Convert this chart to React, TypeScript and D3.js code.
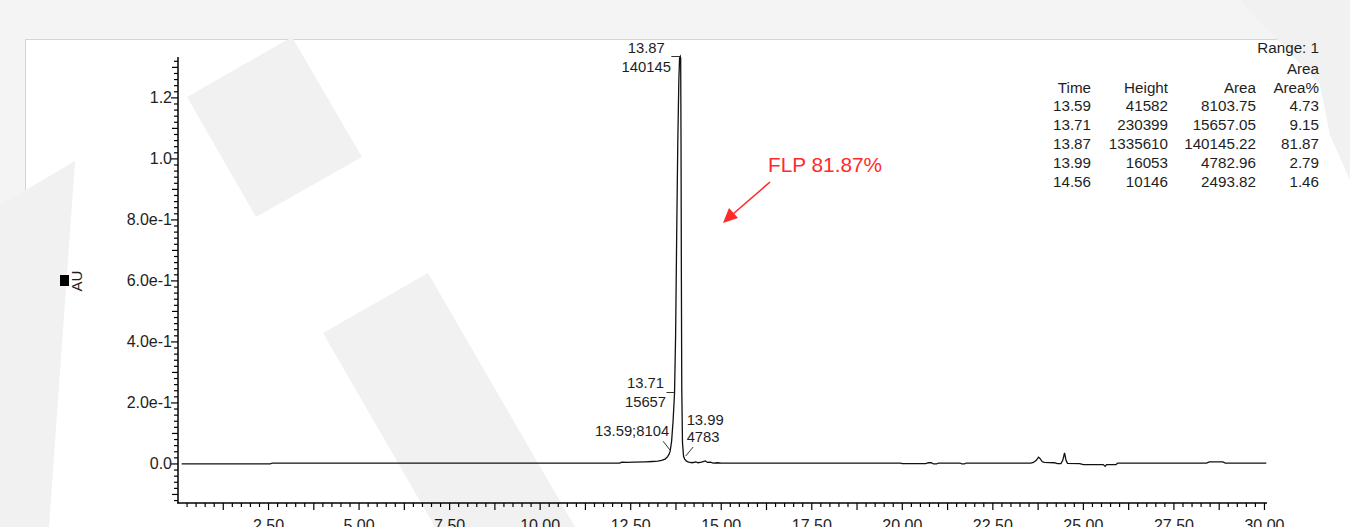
import React, { useEffect, useRef } from 'react';
import * as d3 from 'd3';

// peak table (Empower report)
const peakTimes = [13.59, 13.71, 13.87, 13.99, 14.56];
const peakHeights = [41582, 230399, 1335610, 16053, 10146];
const peakAreas = [8103.75, 15657.05, 140145.22, 4782.96, 2493.82];
const peakAreaPct = [4.73, 9.15, 81.87, 2.79, 1.46];

// chromatogram trace (minutes, AU)
const traceTime = [
  0.1, 2.55, 2.6, 5.0, 10.0, 12.2, 12.25, 12.4, 12.6, 12.9, 13.1, 13.25, 13.35, 13.45, 13.52, 13.56,
  13.59, 13.63, 13.67, 13.71, 13.74, 13.77, 13.8, 13.83, 13.85, 13.87, 13.88, 13.89, 13.9, 13.91,
  13.93, 13.96, 13.99, 14.04, 14.1, 14.2, 14.3, 14.36, 14.45, 14.5, 14.56, 14.62, 14.7, 14.78, 14.9,
  15.0, 19.9, 19.95, 20.0, 20.65, 20.72, 20.8, 20.86, 20.95, 21.0, 21.6, 21.64, 21.72, 21.76, 23.55,
  23.62, 23.7, 23.76, 23.8, 23.86, 23.92, 24.2, 24.28, 24.38, 24.43, 24.48, 24.52, 24.56, 24.9, 25.0,
  25.55, 25.6, 25.64, 25.9, 25.95, 28.4, 28.48, 28.85, 28.92, 30.05,
];
const traceAU = [
  0, 0, 0.003, 0.003, 0.003, 0.003, 0.006, 0.005, 0.006, 0.007, 0.008, 0.009, 0.012, 0.016, 0.024, 0.032,
  0.042, 0.075, 0.14, 0.23, 0.42, 0.75, 1.05, 1.26, 1.33, 1.3356, 1.33, 1.05, 0.6, 0.25,
  0.07, 0.025, 0.016, 0.009, 0.006, 0.004, 0.007, 0.004, 0.006, 0.008, 0.01, 0.005, 0.006, 0.003, 0.004,
  0.003, 0.003, 0.003, 0.001, 0.001, 0.004, 0.004, 0.0, 0.0, 0.003, 0.003, 0.0, 0.0, 0.003, 0.003,
  0.005, 0.012, 0.022, 0.018, 0.008, 0.005, 0.004, 0.001, 0.001, 0.012, 0.036, 0.012, 0.002, 0.001, -0.002,
  -0.002, -0.008, -0.002, -0.002, 0.003, 0.003, 0.007, 0.007, 0.003, 0.003,
];

const xTickValues = [2.5, 5, 7.5, 10, 12.5, 15, 17.5, 20, 22.5, 25, 27.5, 30];
const xTickLabels = ['2.50', '5.00', '7.50', '10.00', '12.50', '15.00', '17.50', '20.00', '22.50', '25.00', '27.50', '30.00'];
const yTickValues = [0, 0.2, 0.4, 0.6, 0.8, 1.0, 1.2];
const yTickLabels = ['0.0', '2.0e-1', '4.0e-1', '6.0e-1', '8.0e-1', '1.0', '1.2'];

const FONT = 'Arial, "Liberation Sans", sans-serif';
const INK = '#1e1e1e';

const Chromatogram = () => {
  const ref = useRef<SVGSVGElement>(null);

  useEffect(() => {
    const svg = d3.select(ref.current);
    svg.selectAll('*').remove();

    // page background + card + watermark
    svg.append('rect').attr('width', 1350).attr('height', 527).attr('fill', '#f4f4f4');
    svg.append('rect').attr('x', 25.5).attr('y', 39.5).attr('width', 1340).attr('height', 500)
      .attr('fill', '#fff').attr('stroke', '#d4d4d4');
    const marks = [
      [[187, 97], [292, 37], [362, 157], [256, 217]],
      [[323, 333], [428, 273], [575, 527], [435, 527]],
      [[0, 205], [75, 161], [49, 527], [0, 527]],
      [[1240, 0], [1350, 0], [1350, 180], [1330, 135], [1320, 85]],
    ];
    marks.forEach(p => {
      svg.append('polygon').attr('points', p.map(q => q.join(',')).join(' ')).attr('fill', '#f1f1f1');
    });

    const x = d3.scaleLinear().domain([0, 30.07]).range([178, 1267]);
    const y = d3.scaleLinear().domain([-0.128, 1.334]).range([503, 57]);

    const g = svg.append('g');

    // Y axis
    g.append('line').attr('x1', 178).attr('x2', 178).attr('y1', y(1.334)).attr('y2', y(-0.128))
      .attr('stroke', '#000').attr('stroke-width', 1.5);
    d3.range(-6, 67).forEach(i => {
      const v = i * 0.02;
      const len = i % 10 === 0 ? 7 : i % 5 === 0 ? 6 : 4;
      g.append('line').attr('x1', 178 - len).attr('x2', 178).attr('y1', y(v)).attr('y2', y(v))
        .attr('stroke', '#000').attr('stroke-width', 1.2);
    });
    yTickValues.forEach((v, i) => {
      g.append('text').attr('x', 172).attr('y', y(v) + 5.5).attr('text-anchor', 'end')
        .attr('font-family', FONT).attr('font-size', 16).attr('fill', INK).text(yTickLabels[i]);
    });

    // X axis
    g.append('line').attr('x1', 177).attr('x2', 1267).attr('y1', 503).attr('y2', 503)
      .attr('stroke', '#000').attr('stroke-width', 1.5);
    d3.range(1, 121).forEach(i => {
      const v = i * 0.25;
      const len = i % 5 === 0 ? 7 : 4;
      g.append('line').attr('x1', x(v)).attr('x2', x(v)).attr('y1', 503).attr('y2', 503 + len)
        .attr('stroke', '#000').attr('stroke-width', 1.2);
    });
    xTickValues.forEach((v, i) => {
      g.append('text').attr('x', x(v)).attr('y', 531).attr('text-anchor', 'middle')
        .attr('font-family', FONT).attr('font-size', 16).attr('fill', INK).text(xTickLabels[i]);
    });

    // AU label
    g.append('rect').attr('x', 60).attr('y', 275).attr('width', 9).attr('height', 11).attr('fill', '#000');
    g.append('text').attr('transform', 'translate(82,281) rotate(-90)').attr('text-anchor', 'middle')
      .attr('font-family', FONT).attr('font-size', 15).attr('fill', INK).text('AU');

    // trace
    const pts = traceTime.map((t, i) => [t, traceAU[i]] as [number, number]);
    g.append('path')
      .attr('d', d3.line<[number, number]>().x(d => x(d[0])).y(d => y(d[1]))(pts) as string)
      .attr('fill', 'none').attr('stroke', '#111').attr('stroke-width', 1.3);

    // peak labels
    const lbl = (px: number, py: number, s: string, anchor: string) =>
      g.append('text').attr('x', px).attr('y', py).attr('text-anchor', anchor)
        .attr('font-family', FONT).attr('font-size', 14.8).attr('fill', INK).text(s);
    const lead = (x1: number, y1: number, x2: number, y2: number) =>
      g.append('line').attr('x1', x1).attr('y1', y1).attr('x2', x2).attr('y2', y2)
        .attr('stroke', '#333').attr('stroke-width', 1);
    const pk = (i: number) => [x(peakTimes[i]), y(peakHeights[i] / 1e6)];

    let [px, py] = pk(2);
    lbl(px - 34, 52.5, peakTimes[2].toFixed(2), 'middle');
    lbl(px - 34, 72, Math.round(peakAreas[2]).toString(), 'middle');
    lead(px - 9, py, px, py);

    [px, py] = pk(1);
    lbl(px - 29, 388, peakTimes[1].toFixed(2), 'middle');
    lbl(px - 29, 407, Math.round(peakAreas[1]).toString(), 'middle');
    lead(px - 8, 392.5, px, 392.5);

    [px, py] = pk(0);
    lbl(px - 1, 436, `${peakTimes[0].toFixed(2)};${Math.round(peakAreas[0])}`, 'end');
    lead(px - 7, py - 10, px, py - 1);

    [px, py] = pk(3);
    lbl(px + 2, 424.5, peakTimes[3].toFixed(2), 'start');
    lbl(px + 2, 442, Math.round(peakAreas[3]).toString(), 'start');
    lead(px + 8.5, py - 12, px + 1, py - 3);

    // results table
    const cols = [1091, 1168, 1256, 1319];
    const tt = (cx: number, cy: number, s: string) =>
      g.append('text').attr('x', cx).attr('y', cy + 5.4).attr('text-anchor', 'end')
        .attr('font-family', FONT).attr('font-size', 15.2).attr('fill', INK).text(s);
    tt(1319, 48, 'Range: 1');
    tt(1319, 69, 'Area');
    ['Time', 'Height', 'Area', 'Area%'].forEach((h, j) => tt(cols[j], 88, h));
    peakTimes.forEach((t, i) => {
      const cy = 106 + i * 18.8;
      tt(cols[0], cy, t.toFixed(2));
      tt(cols[1], cy, String(peakHeights[i]));
      tt(cols[2], cy, peakAreas[i].toFixed(2));
      tt(cols[3], cy, peakAreaPct[i].toFixed(2));
    });

    // FLP annotation
    const red = '#ff2b2b';
    g.append('text').attr('x', 768).attr('y', 172).attr('font-family', FONT).attr('font-size', 20.8)
      .attr('fill', red).text(`FLP ${peakAreaPct[2].toFixed(2)}%`);
    g.append('line').attr('x1', 770).attr('y1', 182).attr('x2', 733).attr('y2', 214)
      .attr('stroke', red).attr('stroke-width', 1.6);
    g.append('polygon').attr('points', '723,223 729,208 738,218').attr('fill', red);
  }, []);

  return <svg ref={ref} width={1350} height={527} style={{ position: 'absolute', left: 0, top: 0 }} />;
};

export default function App() {
  return <Chromatogram />;
}
